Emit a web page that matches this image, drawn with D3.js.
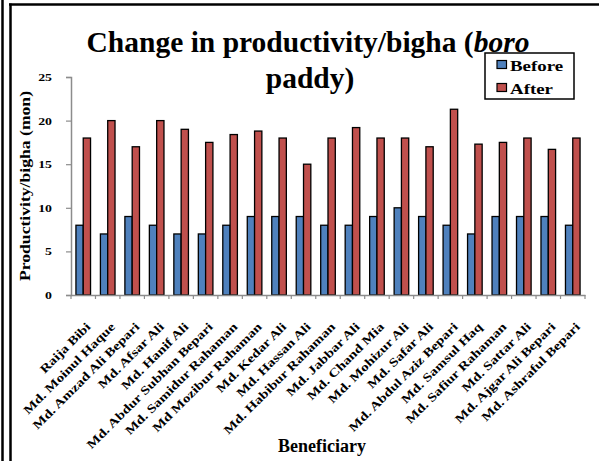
<!DOCTYPE html>
<html>
<head>
<meta charset="utf-8">
<script src="https://cdn.jsdelivr.net/npm/d3@7"></script>
<style>
  html, body { margin: 0; padding: 0; background: #fff; }
  svg { display: block; }
  text { font-family: "Liberation Serif", "Times New Roman", serif; font-weight: bold; fill: #000; }
</style>
</head>
<body>
<svg id="chart" width="599" height="461"></svg>
<script>
// Beneficiaries and boro paddy yield per bigha (mon)
const beneficiaries = [
  "Raija Bibi", "Md. Moinul Haque", "Md. Amzad Ali Bepari", "Md. Afsar Ali",
  "Md. Hanif Ali", "Md. Abdur Subhan Bepari", "Md. Samidur Rahaman",
  "Md Mozibur Rahaman", "Md. Kedar Ali", "Md. Hassan Ali", "Md. Habibur Rahaman",
  "Md. Jabbar Ali", "Md. Chand Mia", "Md. Mohizur Ali", "Md. Safar Ali",
  "Md. Abdul Aziz Bepari", "Md. Samsul Haq", "Md. Safiur Rahaman",
  "Md. Sattar Ali", "Md. Ajgar Ali Bepari", "Md. Ashraful Bepari"
];
const before = [8, 7, 9, 8, 7, 7, 8, 9, 9, 9, 8, 8, 9, 10, 9, 8, 7, 9, 9, 9, 8];
const after  = [18, 20, 17, 20, 19, 17.5, 18.4, 18.8, 18, 15, 18, 19.2, 18, 18, 17, 21.3, 17.3, 17.5, 18, 16.7, 18];
const seriesNames = ["Before", "After"];
const seriesColors = ["#4F81BD", "#C0504D"];
const yTicks = [0, 5, 10, 15, 20, 25];

// the serif face used here is set a little wide
const wide = 1.26;

const svg = d3.select("#chart");

// outer frame: double rule on the left, single rule along the top
svg.append("line").attr("x1", 2.5).attr("x2", 2.5).attr("y1", 0).attr("y2", 461)
  .attr("stroke", "#000").attr("stroke-width", 2.5);
svg.append("line").attr("x1", 10.5).attr("x2", 10.5).attr("y1", 3.5).attr("y2", 461)
  .attr("stroke", "#000").attr("stroke-width", 2.5);
svg.append("line").attr("x1", 9).attr("x2", 599).attr("y1", 4.5).attr("y2", 4.5)
  .attr("stroke", "#000").attr("stroke-width", 2.5);

const plot = { left: 71, right: 585, top: 77, bottom: 295 };

const x = d3.scaleBand().domain(beneficiaries).range([plot.left, plot.right]).paddingInner(0).paddingOuter(0);
const barW = 7.3;
const y = d3.scaleLinear().domain([0, 25]).range([plot.bottom, plot.top]);

// y axis
const yAxis = d3.axisLeft(y).tickValues(yTicks).tickSize(5).tickPadding(0).tickFormat(d3.format("d"));
const gy = svg.append("g").attr("transform", `translate(${plot.left},0)`).call(yAxis);
gy.select(".domain").attr("stroke", "#8c8c8c").attr("stroke-width", 1.5);
gy.selectAll(".tick line").attr("stroke", "#8c8c8c").attr("stroke-width", 1.2);
gy.selectAll(".tick text")
  .attr("x", null)
  .attr("font-size", 11).attr("font-family", "Liberation Serif, serif")
  .attr("font-weight", "bold").attr("fill", "#000")
  .attr("transform", `translate(-19,0) scale(${wide},1)`);

// bars
const groups = svg.append("g").selectAll("g").data(beneficiaries).join("g")
  .attr("transform", d => `translate(${x(d) + x.bandwidth() / 2},0)`);
[before, after].forEach((vals, si) => {
  groups.append("rect")
    .attr("x", si === 0 ? -barW : 0)
    .attr("width", barW)
    .attr("y", (d, i) => y(vals[i]))
    .attr("height", (d, i) => y(0) - y(vals[i]))
    .attr("fill", seriesColors[si])
    .attr("stroke", "#000").attr("stroke-width", 1.3);
});

// x axis
const xAxis = d3.axisBottom(x).tickSize(0).tickFormat("");
const gx = svg.append("g").attr("transform", `translate(0,${plot.bottom})`).call(xAxis);
gx.select(".domain").attr("stroke", "#8c8c8c").attr("stroke-width", 1.5);
// boundary ticks between categories
const bounds = beneficiaries.map(d => x(d)).concat([plot.right]);
gx.selectAll("line.bound").data(bounds).join("line").attr("class", "bound")
  .attr("x1", d => d).attr("x2", d => d).attr("y1", 0).attr("y2", 4)
  .attr("stroke", "#8c8c8c").attr("stroke-width", 1.2);

// rotated category labels
svg.append("g").selectAll("text").data(beneficiaries).join("text")
  .attr("transform", d => `translate(${x(d) + x.bandwidth() / 2 + 5},${plot.bottom + 29.5}) rotate(-45) scale(${wide},1)`)
  .attr("text-anchor", "end")
  .attr("dy", "0.35em")
  .attr("font-size", 12)
  .text(d => d);

// axis titles
svg.append("text")
  .attr("transform", `translate(30,186) rotate(-90) scale(${wide},1)`)
  .attr("text-anchor", "middle")
  .attr("font-size", 14)
  .text("Productivity/bigha (mon)");
svg.append("text")
  .attr("x", 322).attr("y", 452)
  .attr("text-anchor", "middle")
  .attr("font-size", 18)
  .text("Beneficiary");

// chart title on two lines, "boro" in italics
const title = svg.append("text").attr("text-anchor", "middle").attr("font-size", 29.5);
const l1 = title.append("tspan").attr("x", 308).attr("y", 52);
l1.append("tspan").text("Change in productivity/bigha (");
l1.append("tspan").attr("font-style", "italic").text("boro");
title.append("tspan").attr("x", 310).attr("y", 88).text("paddy)");

// legend
const legend = svg.append("g").attr("transform", "translate(485,53)");
legend.append("rect").attr("width", 89).attr("height", 46)
  .attr("fill", "#fff").attr("stroke", "#000").attr("stroke-width", 1.5);
seriesNames.forEach((name, i) => {
  const cy = 11.5 + i * 23;
  legend.append("rect").attr("x", 12).attr("y", cy - 4).attr("width", 9.5).attr("height", 8)
    .attr("fill", seriesColors[i]).attr("stroke", "#000").attr("stroke-width", 1.2);
  legend.append("text")
    .attr("transform", `translate(25,${cy + 6}) scale(${wide},1)`)
    .attr("font-size", 15).text(name);
});
</script>
</body>
</html>
